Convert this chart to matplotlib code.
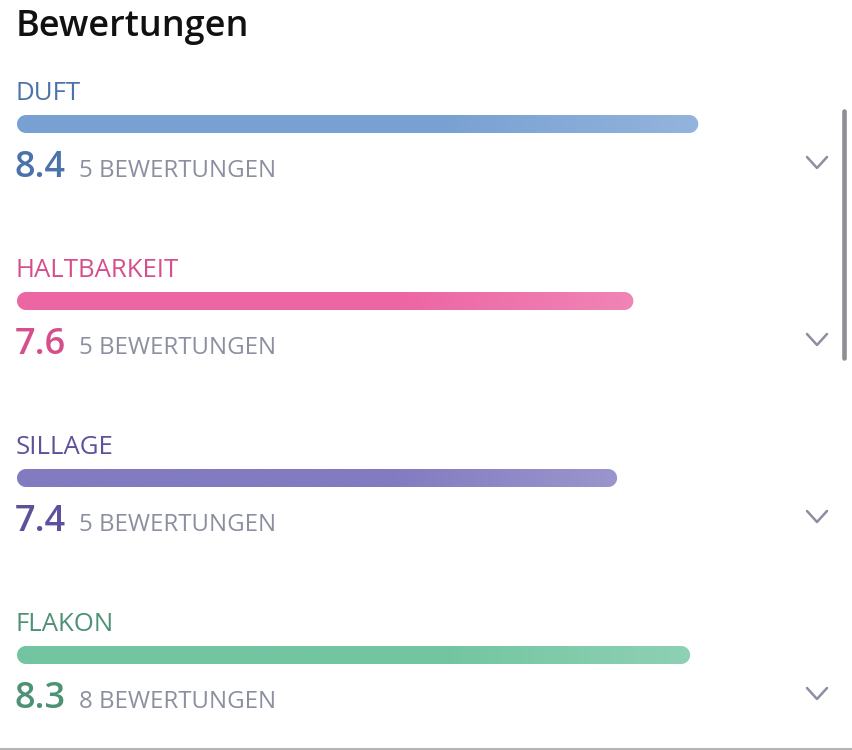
import numpy as np
import matplotlib
matplotlib.use("Agg")
import matplotlib.pyplot as plt
from matplotlib.path import Path
from matplotlib.patches import PathPatch
from matplotlib.colors import to_rgb

plt.rcParams['font.family'] = ['Open Sans', 'DejaVu Sans']

# Data
categories = ["DUFT", "HALTBARKEIT", "SILLAGE", "FLAKON"]
scores = [8.4, 7.6, 7.4, 8.3]
counts = [5, 5, 5, 8]
max_score = 10

bar_colors = ["#78a1d3", "#ec66a3", "#827bc0", "#72c5a1"]
text_colors = ["#4c73a9", "#d64f8d", "#5d519b", "#4e9276"]

W, H = 852, 750
fig = plt.figure(figsize=(W / 100, H / 100), dpi=100)

# pixel axes for text and decoration
pax = fig.add_axes([0, 0, 1, 1])
pax.set_xlim(0, W)
pax.set_ylim(H, 0)
pax.axis('off')

# bar axes: score 0..10 spans x 17..828 px
x0, x1 = 17, 828
bax = fig.add_axes([x0 / W, 0, (x1 - x0) / W, 1])
bax.set_xlim(0, max_score)
bax.set_ylim(H, 0)
bax.axis('off')
px_per_unit = (x1 - x0) / max_score

pax.text(16, 36, "Bewertungen", fontsize=26, fontweight='semibold',
         color="#111111", va='baseline', ha='left')

step = 177
bar_h = 18
gray = "#8b8f9f"


def rounded_bar(v, yc, h):
    rx = (h / 2) / px_per_unit
    ry = h / 2
    t = np.linspace(np.pi / 2, 3 * np.pi / 2, 30)
    left = np.column_stack([rx + rx * np.cos(t), yc - ry * np.sin(t)])
    t2 = np.linspace(-np.pi / 2, np.pi / 2, 30)
    right = np.column_stack([v - rx + rx * np.cos(t2), yc - ry * np.sin(t2)])
    verts = np.vstack([left, right, left[:1]])
    codes = [Path.MOVETO] + [Path.LINETO] * (len(verts) - 2) + [Path.CLOSEPOLY]
    return Path(verts, codes)


for i, (cat, s, n) in enumerate(zip(categories, scores, counts)):
    off = i * step
    pax.text(15.5, 100 + off, cat, fontsize=18.5, color=text_colors[i],
             va='baseline', ha='left')

    yc = 124 + off
    path = rounded_bar(s, yc, bar_h)
    patch = PathPatch(path, facecolor='none', edgecolor='none',
                      transform=bax.transData)
    bax.add_patch(patch)
    base = np.array(to_rgb(bar_colors[i]))
    tt = np.linspace(0, 1, 300)
    mix = np.clip((tt - 0.62) / 0.38, 0, 1) * 0.2
    cols = base[None, :] * (1 - mix[:, None]) + mix[:, None]
    img = bax.imshow(cols[None, :, :], extent=(0, s, yc + bar_h / 2, yc - bar_h / 2),
                     aspect='auto', interpolation='bilinear', zorder=2)
    img.set_clip_path(patch)

    pax.text(15, 177 + off, f"{s:.1f}", fontsize=26, fontweight='semibold',
             color=text_colors[i], va='baseline', ha='left')
    pax.text(79, 177 + off, f"{n} BEWERTUNGEN", fontsize=17.3, color=gray,
             va='baseline', ha='left')

    cy = 162.5 + off
    pax.plot([807, 817, 827], [cy - 5.5, cy + 5.5, cy - 5.5], color=gray,
             lw=1.8, solid_capstyle='round', solid_joinstyle='round')

# scrollbar
pax.plot([844, 844], [111, 358], color="#8e8e93", lw=3.3, solid_capstyle='round')
# bottom divider
pax.plot([0, W], [748.5, 748.5], color="#b5b5b8", lw=1.5)

fig.savefig("out.png", dpi=100)
